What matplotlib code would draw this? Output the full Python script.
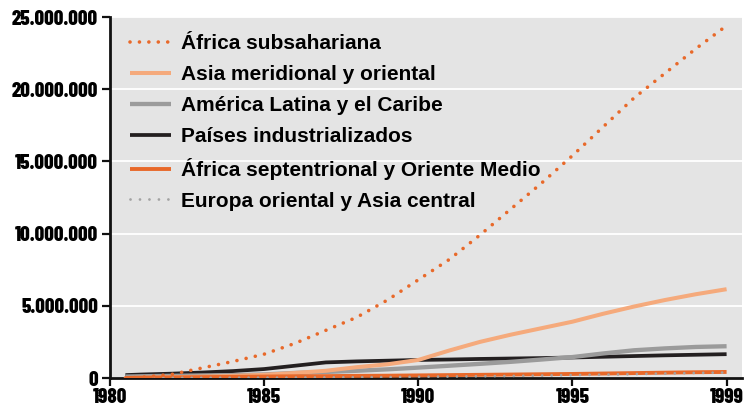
import matplotlib.pyplot as plt
from matplotlib.ticker import FuncFormatter

years = [1980.5, 1981, 1982, 1983, 1984, 1985, 1986, 1987, 1988, 1989, 1990,
         1991, 1992, 1993, 1994, 1995, 1996, 1997, 1998, 1999, 2000]

# millones de personas
subsahariana = [0.0, 0.05, 0.25, 0.7, 1.15, 1.65, 2.4, 3.3, 4.2, 5.4, 6.8,
                8.2, 9.9, 11.7, 13.5, 15.4, 17.4, 19.4, 21.1, 22.8, 24.4]
asia = [0.0, 0.02, 0.05, 0.1, 0.15, 0.22, 0.35, 0.5, 0.75, 0.95, 1.25,
        1.9, 2.5, 3.0, 3.45, 3.9, 4.45, 4.95, 5.4, 5.8, 6.15]
america = [0.1, 0.12, 0.15, 0.18, 0.2, 0.25, 0.35, 0.42, 0.5, 0.6, 0.72,
           0.85, 0.98, 1.12, 1.28, 1.45, 1.7, 1.92, 2.05, 2.15, 2.2]
industrializados = [0.2, 0.24, 0.3, 0.38, 0.48, 0.62, 0.85, 1.08, 1.15, 1.2, 1.25,
                    1.28, 1.32, 1.35, 1.38, 1.42, 1.47, 1.52, 1.57, 1.61, 1.65]
septentrional = [0.0, 0.02, 0.04, 0.06, 0.08, 0.1, 0.12, 0.13, 0.15, 0.16, 0.18,
                 0.2, 0.22, 0.24, 0.26, 0.28, 0.31, 0.34, 0.37, 0.4, 0.42]
europa = [0.0, 0.0, 0.01, 0.01, 0.02, 0.02, 0.03, 0.04, 0.05, 0.06, 0.08,
          0.1, 0.12, 0.14, 0.17, 0.2, 0.23, 0.27, 0.31, 0.35, 0.38]

xticks = [1980, 1985, 1990, 1995, 2000]
xtick_labels = ["1980", "1985", "1990", "1995", "1999"]

fig = plt.figure(figsize=(7.47, 4.08), dpi=100)
ax = fig.add_axes([110 / 747, 30 / 408, 632 / 747, 361 / 408])
ax.set_facecolor("#e4e4e4")

m = 1e6
l_ind, = ax.plot(years, [v * m for v in industrializados], color="#231f20", lw=2.7, zorder=3,
                 solid_capstyle="butt")
l_am, = ax.plot(years, [v * m for v in america], color="#9b9b9b", lw=3.1, zorder=4,
                solid_capstyle="butt")
l_as, = ax.plot(years, [v * m for v in asia], color="#f5aa7c", lw=2.9, zorder=5,
                solid_capstyle="butt")
l_sep, = ax.plot(years, [v * m for v in septentrional], color="#e8692a", lw=2.8, zorder=6,
                 solid_capstyle="butt")
l_eu, = ax.plot(years, [v * m for v in europa], color="#a2a2a2", lw=2.0, zorder=7,
                linestyle=(0, (0.01, 3.4)), dash_capstyle="round")
l_sub, = ax.plot(years, [v * m for v in subsahariana], color="#e8692a", lw=2.6, zorder=8,
                 linestyle=(0, (0.01, 2.6)), dash_capstyle="round")

ax.set_xlim(1980, 2000.5)
ax.set_ylim(0, 25e6)
ax.set_yticks([0, 5e6, 10e6, 15e6, 20e6, 25e6])
ax.yaxis.set_major_formatter(FuncFormatter(lambda v, p: f"{int(v):,}".replace(",", ".")))
ax.set_xticks(xticks)
ax.set_xticklabels(xtick_labels)
ax.grid(axis="y", color="white", lw=1.3)
ax.set_axisbelow(True)

for s in ["top", "right"]:
    ax.spines[s].set_visible(False)
for s in ["left", "bottom"]:
    ax.spines[s].set_linewidth(2.0)
    ax.spines[s].set_color("#111111")

ax.tick_params(axis="both", direction="out", width=1.6, length=5.5, color="#111111")
tick_family = ["Barlow Condensed", "DejaVu Sans"]
for lab in ax.get_yticklabels() + ax.get_xticklabels():
    lab.set_fontfamily(tick_family)
    lab.set_fontweight(800)
    lab.set_fontsize(15)
ax.tick_params(axis="y", pad=3)
ax.tick_params(axis="x", pad=1.5)

leg = ax.legend([l_sub, l_as, l_am, l_ind, l_sep, l_eu],
                ["África subsahariana", "Asia meridional y oriental",
                 "América Latina y el Caribe", "Países industrializados",
                 "África septentrional y Oriente Medio", "Europa oriental y Asia central"],
                loc="upper left", bbox_to_anchor=(0.018, 0.975), frameon=False,
                prop=dict(family=["Liberation Sans", "DejaVu Sans"], weight="bold", size=15),
                handlelength=2.0, handletextpad=0.45, labelspacing=0.57, borderaxespad=0)

fig.savefig("out.png", dpi=100)
